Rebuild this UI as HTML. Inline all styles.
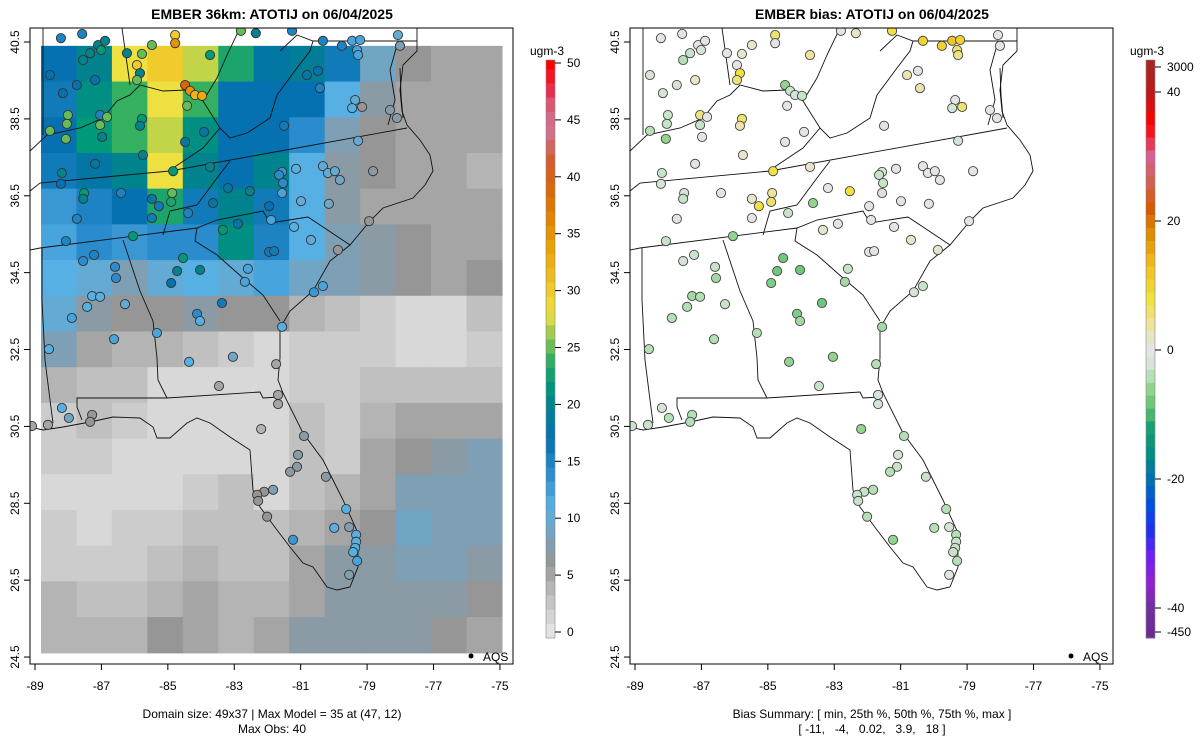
<!DOCTYPE html>
<html><head><meta charset="utf-8"><style>
body{margin:0;background:#fff}
svg{display:block;font-family:"Liberation Sans",sans-serif}
</style></head><body>
<svg id="c" width="1200" height="750" viewBox="0 0 1200 750">
<defs>
<clipPath id="clipL"><rect x="30" y="28" width="483" height="636"/></clipPath>
<clipPath id="clipR"><rect x="630" y="28" width="483" height="636"/></clipPath>
</defs>
<rect width="1200" height="750" fill="#fff"/>
<text x="272" y="19" text-anchor="middle" font-size="14" font-weight="bold">EMBER 36km: ATOTIJ on 06/04/2025</text>
<text x="872" y="19" text-anchor="middle" font-size="14" font-weight="bold">EMBER bias: ATOTIJ on 06/04/2025</text>
<g id="gridL" clip-path="url(#clipL)"></g>
<g id="mapL" clip-path="url(#clipL)"></g>
<g id="mapR" clip-path="url(#clipR)"></g>
<g id="stL" clip-path="url(#clipL)"></g>
<g id="stR" clip-path="url(#clipR)"></g>
<rect x="30" y="28" width="483" height="636" fill="none" stroke="#000"/>
<rect x="630" y="28" width="483" height="636" fill="none" stroke="#000"/>
<g id="axes" font-size="12"></g>
<g id="cbars" font-size="12"></g>
<circle cx="471" cy="656" r="2.5" fill="#000"/>
<text x="483" y="661" font-size="12">AQS</text>
<circle cx="1071" cy="656" r="2.5" fill="#000"/>
<text x="1083" y="661" font-size="12">AQS</text>
<text x="272" y="718" text-anchor="middle" font-size="12">Domain size: 49x37 | Max Model = 35 at (47, 12)</text>
<text x="272" y="733" text-anchor="middle" font-size="12">Max Obs: 40</text>
<text x="872" y="718" text-anchor="middle" font-size="12">Bias Summary: [ min, 25th %, 50th %, 75th %, max ]</text>
<text x="872" y="733" text-anchor="middle" font-size="12" xml:space="preserve">[ -11,   -4,   0.02,   3.9,   18 ]</text>
</svg>
<script>
// ---- data ----
const xTicks=[-89,-87,-85,-83,-81,-79,-77,-75];
const yTicks=[40.5,38.5,36.5,34.5,32.5,30.5,28.5,26.5,24.5];
const concTicks=[0,5,10,15,20,25,30,35,40,45,50];
const biasTickVals=[44,40,20,0,-20,-40,-44];
const biasTickLabels=["3000","40","20","0","-20","-40","-450"];
const gridLonMin=-88.82, gridLonMax=-74.94, gridLatTop=40.40, gridLatBot=24.61;
const gridVals=[
[17,20,28,30,27,23,18,19,16,9,6,5,5],
[16,21,24,28,24,17,17,17,11,7,5,5,5],
[17,22,24,27,21,17,17,14,8,6,5,5,5],
[16,18,20,28,20,17,20,11,7,6,5,5,4],
[13,15,17,23,16,20,16,11,7,5,5,5,5],
[12,14,13,14,14,21,15,11,8,7,6,5,5],
[11,10,8,10,11,10,12,9,8,7,6,5,6],
[10,7,6,6,7,6,6,4,3,2,1,1,3],
[8,5,4,4,3,2,1,2,2,2,1,1,2],
[4,3,3,1,1,1,1,2,2,3,3,3,3],
[2,3,2,1,1,1,1,3,2,4,5,5,5],
[2,2,1,1,1,1,1,3,2,5,6,7,8],
[1,1,1,1,2,3,1,3,4,5,8,8,8],
[2,1,2,2,3,3,3,4,5,6,9,8,8],
[2,2,2,3,4,3,3,5,7,7,8,8,7],
[4,3,3,4,5,4,4,5,7,7,7,7,6],
[4,4,4,6,5,4,5,7,7,7,7,6,5]];
const stLon=[-88.22,-87.58,-87.10,-86.89,-87.01,-87.34,-87.55,-86.23,-85.78,-85.48,-84.78,-84.78,-85.93,-85.84,-85.93,-84.48,-84.33,-84.18,-83.97,-83.73,-84.42,-82.80,-82.35,-81.26,-80.33,-79.76,-79.45,-79.21,-79.30,-79.27,-78.07,-78.01,-80.81,-80.48,-80.42,-79.36,-79.45,-79.15,-78.31,-78.10,-88.55,-88.16,-87.74,-87.19,-88.01,-88.04,-87.04,-86.83,-87.04,-88.55,-88.07,-86.98,-85.78,-85.84,-84.48,-83.91,-85.75,-87.19,-88.19,-88.22,-84.84,-83.73,-81.50,-79.27,-80.33,-80.18,-79.97,-79.82,-78.82,-81.14,-81.56,-81.65,-81.53,-81.56,-80.99,-80.15,-87.52,-87.55,-86.41,-84.87,-84.90,-85.48,-85.27,-85.48,-84.39,-83.19,-82.53,-83.64,-81.95,-81.89,-82.89,-83.34,-81.20,-80.69,-78.94,-86.05,-87.74,-88.07,-87.55,-87.22,-84.54,-84.72,-84.03,-84.90,-86.59,-86.56,-81.95,-81.80,-82.59,-82.68,-79.88,-80.33,-80.60,-87.28,-87.04,-87.43,-86.29,-87.89,-83.37,-84.12,-84.03,-81.56,-85.33,-86.62,-88.58,-83.04,-84.36,-81.74,-83.46,-81.68,-81.68,-88.19,-87.98,-87.28,-87.34,-88.61,-89.09,-82.19,-80.90,-81.08,-81.11,-81.32,-80.24,-81.83,-82.10,-82.31,-82.28,-82.01,-79.63,-79.99,-79.54,-79.33,-79.33,-79.36,-79.42,-79.30,-79.54,-81.23];
const stLat=[40.60,40.71,40.42,40.53,40.29,40.21,40.03,40.21,40.19,40.42,40.68,40.47,39.90,39.69,39.51,39.38,39.23,39.12,39.10,40.16,38.84,40.79,40.73,40.79,40.53,40.40,40.53,40.55,40.29,40.16,40.68,40.40,39.64,39.75,39.30,38.99,38.78,38.81,38.73,38.52,39.64,39.17,39.38,39.51,38.60,38.37,38.60,38.55,38.34,38.19,37.98,38.03,38.50,38.32,37.90,38.16,37.56,37.33,37.09,36.81,37.14,37.25,38.32,37.93,37.27,37.09,37.14,36.91,37.14,37.20,37.12,37.04,36.83,36.57,36.36,36.29,36.57,36.42,36.57,36.57,36.34,36.42,36.23,35.92,36.05,36.70,36.62,36.31,36.23,35.87,35.77,35.61,35.69,35.35,35.84,35.45,35.90,35.32,34.80,34.96,34.88,34.54,34.57,34.23,34.65,34.36,35.04,35.06,34.60,34.26,35.09,34.15,33.99,33.89,33.87,33.61,33.68,33.32,33.71,33.43,33.24,33.09,32.93,32.77,32.51,32.31,32.18,32.12,31.55,31.32,31.08,30.98,30.72,30.80,30.62,30.54,30.51,30.43,30.25,29.76,29.45,29.32,29.19,28.85,28.80,28.72,28.56,28.15,28.35,27.86,27.88,27.68,27.50,27.34,27.23,27.00,26.64,27.55];
const stObs=[15,15,20,20,22,20,20,20,25,25,30,35,30,20,25,40,35,32,33,22,25,25,20,15,15,15,12,12,12,12,10,8,18,17,15,10,11,6,7,7,17,17,17,17,25,25,15,25,25,25,25,20,22,20,18,18,20,18,20,17,22,20,16,10,10,10,10,9,7,11,13,14,14,12,10,9,22,20,15,25,23,18,16,16,15,18,20,18,17,12,18,22,11,10,6,22,15,15,14,15,22,20,20,17,14,14,16,16,12,12,6,12,13,11,11,11,10,12,16,14,11,11,12,12,11,9,11,5,5,5,5,11,9,6,6,5,5,4,7,7,7,7,7,8,6,6,6,6,11,11,8,11,11,11,11,12,8,13];
const stBias=[0,0,0,0,-2,-3,-4,0,2,2,6,0,0,8,6,-6,-3,-2,-3,4,0,0,2,8,10,10,12,10,6,5,0,0,3,0,3,0,-2,6,0,0,-2,-2,-2,2,-3,-3,5,0,-3,-4,-6,0,6,3,0,0,2,0,-3,-2,8,2,0,-2,0,0,0,0,0,0,-2,-3,-3,-2,0,0,-2,-3,0,4,6,2,8,0,-3,0,8,-6,0,0,0,2,0,2,0,-6,0,-3,-2,-3,-8,-8,-8,-7,-3,-5,0,0,-3,-5,2,-3,-2,-5,-4,-4,-3,-4,-8,-7,-5,-5,-4,-4,-4,-6,-6,-4,-3,-2,-2,-2,-4,-4,-4,-3,-3,-6,-4,-2,-3,-4,-3,-4,-3,-3,-3,-4,-4,-4,-2,-4,-3,-3,-3,-4,0,-6];

// ---- scales ----
const LX0=35, PXDEG=33.21, LY0=42, PYDEG=38.44;
function xL(lon){return LX0+(lon+89)*PXDEG;}
function yM(lat){return LY0+(40.5-lat)*PYDEG;}
const concStops=[[0,"#e4e4e4"],[4,"#b4b4b4"],[6,"#969696"],[8,"#7e9fb4"],[11,"#56b0e4"],[14,"#2a8ccc"],[17,"#0571b0"],[20,"#00838c"],[22,"#009a78"],[24,"#35b060"],[26,"#96c850"],[28,"#ede040"],[31,"#f0c020"],[34,"#e8a000"],[38,"#dd7000"],[41,"#d45a20"],[44,"#d27090"],[46,"#d86080"],[48,"#f02040"],[50,"#ff0000"]];
const biasStops=[[-45,"#6a2a90"],[-40,"#7030a0"],[-36,"#9020d0"],[-32,"#7020f0"],[-28,"#2030f0"],[-24,"#0050e0"],[-20,"#0070b0"],[-16,"#009080"],[-12,"#18a070"],[-9,"#60c070"],[-6,"#90d490"],[-3,"#c8e4c8"],[-1,"#e4e4e4"],[1,"#e4e4e4"],[3,"#ece4b0"],[8,"#f0e040"],[13,"#f0c020"],[18,"#e08c00"],[22,"#d85a00"],[26,"#d06050"],[30,"#d86090"],[35,"#ff0000"],[40,"#c01818"],[45,"#a02828"]];
function hex(c){return [1,3,5].map(i=>parseInt(c.substr(i,2),16));}
function pal(stops,v){
  if(v<=stops[0][0])return stops[0][1];
  for(let i=1;i<stops.length;i++){if(v<=stops[i][0]){const a=stops[i-1],b=stops[i],t=(v-a[0])/(b[0]-a[0]);const A=hex(a[1]),B=hex(b[1]);return "rgb("+A.map((x,k)=>Math.round(x+(B[k]-x)*t)).join(",")+")";}}
  return stops[stops.length-1][1];
}
const NS="http://www.w3.org/2000/svg";
function mk(tag,attrs,parent){const e=document.createElementNS(NS,tag);for(const k in attrs)e.setAttribute(k,attrs[k]);parent.appendChild(e);return e;}

// ---- grid ----
const gL=document.getElementById('gridL');
const nR=gridVals.length,nC=gridVals[0].length;
const cw=(xL(gridLonMax)-xL(gridLonMin))/nC, ch=(yM(gridLatBot)-yM(gridLatTop))/nR;
gridVals.forEach((row,j)=>row.forEach((v,i)=>{
  const r=mk('rect',{x:xL(gridLonMin)+i*cw,y:yM(gridLatTop)+j*ch,width:cw+0.6,height:ch+0.6,fill:pal(concStops,v)},gL);
  
  
}));

// ---- basemap (left-panel pixel outlines, reused on right) ----
const mapLines=[
[[417,28],[417,51],[403,65],[400,90],[402,111],[407,125],[420,140],[430,155],[433,171],[425,185],[413,198],[383,208],[370,221],[350,245],[330,261],[313,291],[290,311],[280,328],[280,358],[278,380],[283,393],[303,433],[323,460],[343,500],[358,533],[358,567],[350,587],[337,590],[327,587],[313,567],[303,563],[290,547],[277,530],[260,507],[253,490],[250,450],[230,437],[210,423],[197,418],[187,423],[170,438],[157,438],[153,427],[140,418],[113,417],[90,422],[63,427],[43,430],[30,427]],
[[397,45],[390,70],[395,100],[388,125]],[[400,68],[401,95],[403,118]],
[[30,191],[40,183],[170,171],[407,128]],
[[30,250],[40,248],[197,228],[217,220],[263,211],[270,223],[308,217],[350,245]],
[[197,228],[195,241],[217,255],[243,278],[263,295],[280,321]],
[[163,235],[170,211],[197,205],[217,178],[230,161]],
[[123,240],[140,291],[153,321],[157,358],[158,380],[163,390],[167,398],[260,392],[263,398],[278,397]],
[[167,398],[77,398],[77,407],[82,420]],
[[42,248],[42,300],[45,360],[50,400],[53,423]],
[[30,151],[47,135],[80,128],[103,118],[117,101],[130,95],[140,85],[163,91],[187,90],[203,101],[217,78],[227,55],[240,28]],
[[122,28],[130,85]],[[43,28],[43,135]],
[[173,168],[203,148],[220,128],[230,138],[247,133],[270,118],[277,95],[297,68],[310,51],[313,41]],
[[220,128],[203,101]],
[[280,51],[297,35],[313,41],[417,41]]];
[['mapL',0],['mapR',600]].forEach(([id,off])=>{
  const g=document.getElementById(id);
  mapLines.forEach(line=>{
    const p=mk('polyline',{points:line.map(q=>(q[0]+off)+","+q[1]).join(" "),fill:"none",stroke:"#111","stroke-width":0.9},g);
    
    
  });
});

// ---- stations ----
const sL=document.getElementById('stL'), sR=document.getElementById('stR');
stLon.forEach((lon,k)=>{
  const cx=xL(lon), cy=yM(stLat[k]);
  const a=mk('circle',{cx:cx,cy:cy,r:4.6,fill:pal(concStops,stObs[k]),stroke:"#333","stroke-width":0.9},sL);
  
  
  const b=mk('circle',{cx:cx+600,cy:cy,r:4.6,fill:pal(biasStops,stBias[k]),stroke:"#444","stroke-width":0.9},sR);
  
  
});

// ---- axes ----
const ax=document.getElementById('axes');
[0,600].forEach(off=>{
  xTicks.forEach(t=>{
    const x=xL(t)+off;
    const l=mk('line',{x1:x,x2:x,y1:664,y2:670,stroke:"#000"},ax);
    
    
    const tx=mk('text',{x:x,y:690,"text-anchor":"middle"},ax);tx.textContent=t;
    
    
  });
  yTicks.forEach(t=>{
    const y=yM(t);
    const l=mk('line',{x1:24+off,x2:30+off,y1:y,y2:y,stroke:"#000"},ax);
    
    
    const tx=mk('text',{x:19+off,y:y,"text-anchor":"middle",transform:`rotate(-90 ${19+off} ${y})`},ax);tx.textContent=t.toFixed(1);
    
    
  });
});

// ---- colorbars ----
const cb=document.getElementById('cbars');
const cTop=60,cBot=638;
function yC(v){return 632-(v)*(632-63)/50;}
for(let v=-0.5;v<51;v+=1.25){
  const y1=Math.max(cTop,yC(v+1.25)),y2=Math.min(cBot,yC(v));
  const r=mk('rect',{x:546,y:y1,width:9,height:y2-y1+0.5,fill:pal(concStops,v+0.6)},cb);
  
  
}
mk('rect',{x:546,y:cTop,width:9,height:cBot-cTop,fill:"none",stroke:"#888","stroke-width":0.6},cb);
concTicks.forEach(t=>{
  const y=yC(t);
  const l=mk('line',{x1:555,x2:561,y1:y,y2:y,stroke:"#000"},cb);
  
  
  const tx=mk('text',{x:567,y:y+4},cb);tx.textContent=t;
  
  
});
function yB(v){return 350-v*6.45;}
for(let v=-45;v<45;v+=2){
  const y1=Math.max(cTop,yB(v+2)),y2=Math.min(cBot,yB(v));
  const r=mk('rect',{x:1146,y:y1,width:9,height:y2-y1+0.5,fill:pal(biasStops,v+1)},cb);
  
  
}
mk('rect',{x:1146,y:cTop,width:9,height:cBot-cTop,fill:"none",stroke:"#888","stroke-width":0.6},cb);
biasTickVals.forEach((t,k)=>{
  const y=Math.min(632,Math.max(67,yB(t)));
  const l=mk('line',{x1:1155,x2:1161,y1:y,y2:y,stroke:"#000"},cb);
  
  
  const tx=mk('text',{x:1167,y:y+4},cb);tx.textContent=biasTickLabels[k];
  
  
});
[[530,'conc-unit-label'],[1130,'bias-unit-label']].forEach(([x,n])=>{
  const t=mk('text',{x:x,y:55},cb);t.textContent="ugm-3";
  
  
});
</script>
</body></html>
